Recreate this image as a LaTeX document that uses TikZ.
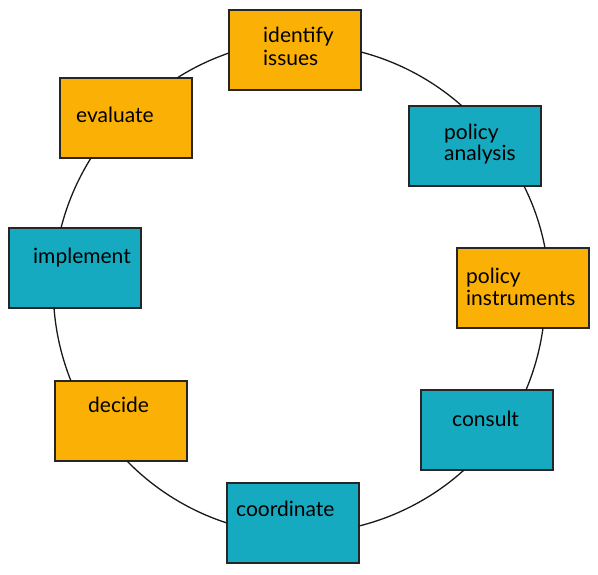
\documentclass[tikz,border=0pt]{standalone}
\usepackage{fontspec}
\setmainfont{Lato}
\definecolor{boxorange}{HTML}{FAB005}
\definecolor{boxteal}{HTML}{15AABF}
\begin{document}
\begin{tikzpicture}[x=1pt,y=1pt,
  box/.style={draw=black!85, line width=1.4pt, minimum width=132pt, minimum height=80pt,
    inner sep=0pt, outer sep=0pt, anchor=north west},
  obox/.style={box, fill=boxorange},
  tbox/.style={box, fill=boxteal},
  lbl/.style={anchor=base west, inner sep=0pt, font=\fontsize{21}{22.5}\selectfont},
  conn/.style={draw=black!90, line width=1.3pt, looseness=0.86}]
\useasboundingbox (0,0) rectangle (598,574);
% boxes
\node[obox] (ident) at (229,564) {};
\node[tbox] (pa) at (409,468) {};
\node[obox] (pi) at (457,326) {};
\node[tbox] (co) at (421,184) {};
\node[tbox] (cd) at (227,91) {};
\node[obox] (de) at (55,193) {};
\node[tbox] (im) at (9,346) {};
\node[obox] (ev) at (60,496) {};
% connectors
\draw[conn] ([yshift=-42pt]ident.north east) to[bend left=13.5] ([xshift=53pt]pa.north west);
\draw[conn] ([xshift=115pt]pa.south west) to[bend left=7.9] ([xshift=88pt]pi.north west);
\draw[conn] ([xshift=86pt]pi.south west) to[bend left=7.4] ([xshift=105pt]co.north west);
\draw[conn] ([xshift=43pt]co.south west) to[bend left=14.1] ([yshift=-43pt]cd.north east);
\draw[conn] ([yshift=-40pt]cd.north west) to[bend left=14] ([xshift=72pt]de.south west);
\draw[conn] ([xshift=16pt]de.north west) to[bend left=8.7] ([xshift=45pt]im.south west);
\draw[conn] ([xshift=52pt]im.north west) to[bend left=8.9] ([xshift=31pt]ev.south west);
\draw[conn] ([xshift=117pt]ev.north west) to[bend left=6.7] ([yshift=-43pt]ident.north west);
% labels
\node[lbl] (identT) at (263,531) {\vtop{\baselineskip=23pt\hbox{identify}\hbox{issues}}};
\node[lbl] (paT) at (444,434) {\vtop{\baselineskip=21pt\hbox{policy}\hbox{analysis}}};
\node[lbl] (piT) at (466,290) {\vtop{\baselineskip=22pt\hbox{policy}\hbox{instruments}}};
\node[lbl] (coT) at (452,147) {consult};
\node[lbl] (cdT) at (236,57) {coordinate};
\node[lbl] (deT) at (88,161) {decide};
\node[lbl] (imT) at (33,310) {implement};
\node[lbl] (evT) at (76,451) {evaluate};
\end{tikzpicture}
\end{document}
